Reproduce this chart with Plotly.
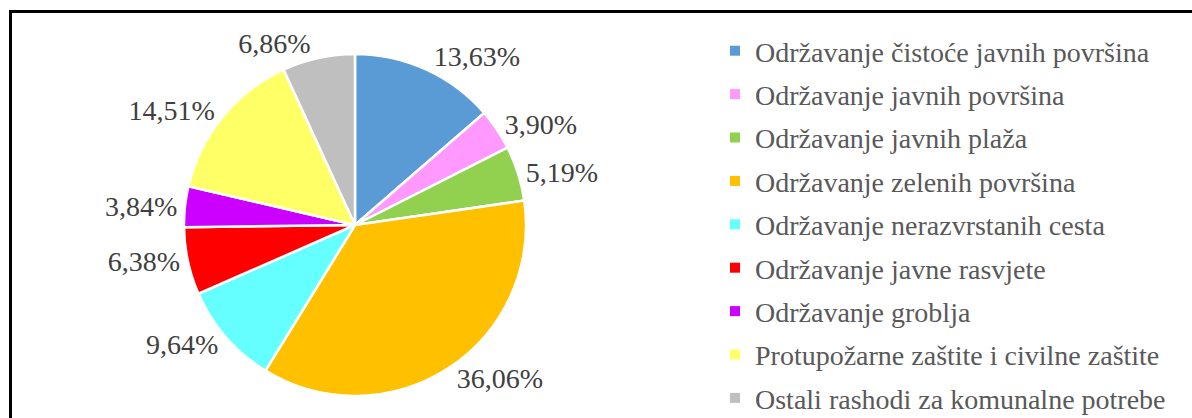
'''
    Pie chart of communal expenditures, recreated with Plotly.
'''

import plotly.graph_objects as go

categories = [
    'Održavanje čistoće javnih površina',
    'Održavanje javnih površina',
    'Održavanje javnih plaža',
    'Održavanje zelenih površina',
    'Održavanje nerazvrstanih cesta',
    'Održavanje javne rasvjete',
    'Održavanje groblja',
    'Protupožarne zaštite i civilne zaštite',
    'Ostali rashodi za komunalne potrebe',
]
shares = [13.63, 3.90, 5.19, 36.06, 9.64, 6.38, 3.84, 14.51, 6.86]
share_labels = ['13,63%', '3,90%', '5,19%', '36,06%', '9,64%', '6,38%', '3,84%', '14,51%', '6,86%']
colors = ['#5B9BD5', '#FF99FF', '#92D050', '#FFC000', '#66FFFF',
          '#FF0000', '#CC00FF', '#FFFF66', '#BFBFBF']

W, H = 1192, 418
FONT = 'Liberation Serif, Times New Roman, serif'

fig = go.Figure()

fig.add_trace(go.Pie(
    labels=categories,
    values=shares,
    text=share_labels,
    textinfo='text',
    textposition='outside',
    sort=False,
    direction='clockwise',
    rotation=0,
    marker=dict(colors=colors, line=dict(color='white', width=2.5)),
    textfont=dict(family=FONT, size=28, color='#404040'),
    domain=dict(x=[184 / W, 526 / W], y=[22 / H, 364 / H]),
    showlegend=False,
    hoverinfo='label+text',
))

# legend built from dummy markers so the row spacing can match
for i, (name, col) in enumerate(zip(categories, colors)):
    fig.add_trace(go.Scatter(
        x=[None], y=[None], mode='markers', name=name,
        marker=dict(symbol='square', size=10, color=col),
        legendgroup=f'g{i}', showlegend=True,
    ))

fig.add_shape(
    type='rect', xref='paper', yref='paper',
    x0=10.5 / W, x1=1.02, y0=-0.02, y1=1 - 11.5 / H,
    line=dict(color='black', width=3), fillcolor='rgba(0,0,0,0)',
)

fig.update_layout(
    width=W, height=H,
    margin=dict(l=0, r=0, t=0, b=0, autoexpand=False),
    paper_bgcolor='white', plot_bgcolor='white',
    xaxis=dict(visible=False), yaxis=dict(visible=False),
    font=dict(family=FONT),
    legend=dict(
        x=715 / W, xanchor='left', y=1 - 26 / H, yanchor='top',
        font=dict(family=FONT, size=28, color='#595959'),
        tracegroupgap=4, itemclick=False, bgcolor='rgba(0,0,0,0)',
    ),
)

fig.write_html('out.html', config={'displayModeBar': False},
               post_script="document.body.style.margin = '0';")
